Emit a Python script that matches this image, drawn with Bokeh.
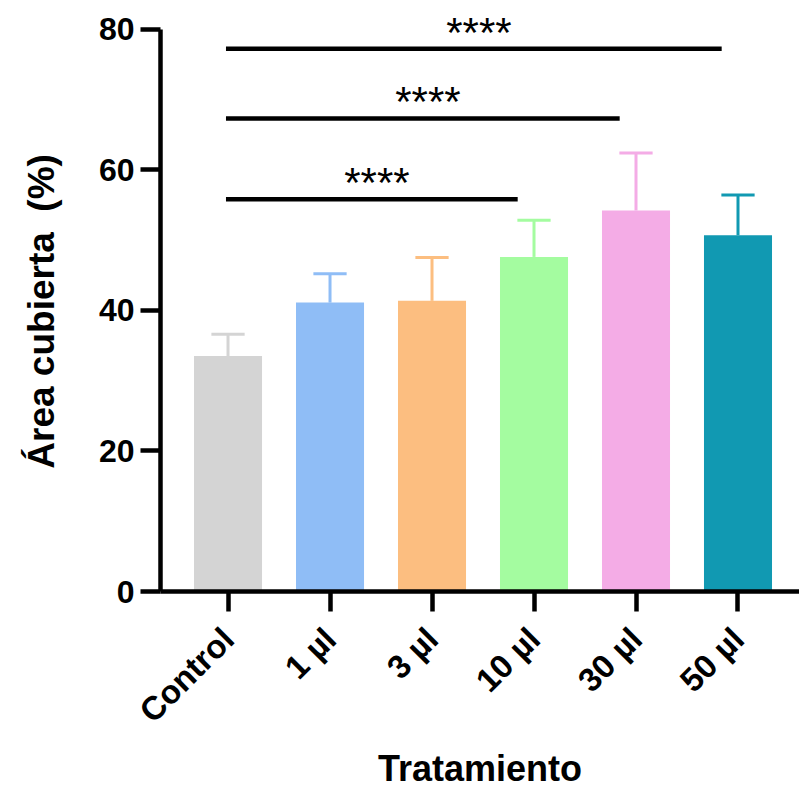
import math
from bokeh.plotting import figure
from bokeh.models import Range1d, FixedTicker, ColumnDataSource, LabelSet
from bokeh.core.properties import value
from bokeh.embed import file_html
from bokeh.resources import INLINE

# ---- data ----
groups = ["Control", "1 µl", "3 µl", "10 µl", "30 µl", "50 µl"]
means = [33.5, 41.1, 41.35, 47.6, 54.2, 50.7]
sds = [3.1, 4.1, 6.15, 5.2, 8.2, 5.7]
colors = ["#D4D4D4", "#8FBDF6", "#FCBE80", "#A4FCA0", "#F4ACE6", "#1199B2"]
y_ticks = [0, 20, 40, 60, 80]
sig_from = ["Control", "Control", "Control"]
sig_to = ["10 µl", "30 µl", "50 µl"]
sig_height = [55.8, 67.3, 77.2]
sig_label = ["****", "****", "****"]

FONT = "Liberation Sans"

xs = list(range(len(groups)))
idx = {g: i for i, g in enumerate(groups)}

p = figure(width=799, height=791, output_backend="svg", toolbar_location=None,
           x_range=Range1d(-0.662, 5.603), y_range=Range1d(0, 84.08),
           min_border_left=160, min_border_right=0, min_border_top=0,
           min_border_bottom=199)
p.outline_line_color = None
p.xgrid.visible = False
p.ygrid.visible = False
p.background_fill_color = "white"
p.border_fill_color = "white"

src = ColumnDataSource(dict(x=xs, top=means, color=colors,
                            up=[m + s for m, s in zip(means, sds)],
                            cl=[x - 0.163 for x in xs], cr=[x + 0.163 for x in xs]))
p.vbar(x="x", top="top", bottom=0, width=0.667, fill_color="color",
       line_color=None, source=src)
p.segment(x0="x", y0="top", x1="x", y1="up", line_color="color", line_width=3, source=src)
p.segment(x0="cl", y0="up", x1="cr", y1="up", line_color="color", line_width=3, source=src)

# significance bars
sx0 = [idx[a] - 0.02 for a in sig_from]
sx1 = [idx[b] - 0.16 for b in sig_to]
p.segment(x0=sx0, y0=sig_height, x1=sx1, y1=sig_height, line_color="black",
          line_width=4.5)
sig_src = ColumnDataSource(dict(x=[(a + b) / 2 + 0.05 for a, b in zip(sx0, sx1)],
                                y=sig_height, text=sig_label))
p.add_layout(LabelSet(x="x", y="y", text="text", source=sig_src,
                      text_font=value(FONT), text_font_size="42px",
                      text_color="black", text_align="center",
                      text_baseline="bottom", y_offset=-7))

# axes
for ax in (p.xaxis[0], p.yaxis[0]):
    ax.axis_line_width = 4.5
    ax.axis_line_color = "black"
    ax.major_tick_line_width = 4.5
    ax.major_tick_line_color = "black"
    ax.major_tick_out = 20
    ax.major_tick_in = 0
    ax.minor_tick_line_color = None
    ax.major_label_text_font = FONT
    ax.major_label_text_font_style = "bold"
    ax.major_label_text_font_size = "32px"
    ax.major_label_text_color = "black"
    ax.axis_label_text_font = FONT
    ax.axis_label_text_font_style = "bold"
    ax.axis_label_text_color = "black"

p.yaxis.ticker = FixedTicker(ticks=y_ticks)
p.yaxis.bounds = (0, 80)
p.yaxis.major_label_standoff = 6
p.yaxis.axis_label = "Área cubierta\u00a0 (%)\u00a0\u00a0\u00a0"
p.yaxis.axis_label_text_font_size = "37px"
p.yaxis.axis_label_standoff = 34

p.xaxis.ticker = FixedTicker(ticks=xs)
p.xaxis.major_label_overrides = {i: g for i, g in enumerate(groups)}
p.xaxis.major_label_orientation = math.pi / 4
p.xaxis.major_label_text_font_size = "33px"
p.xaxis.major_label_standoff = 22
p.xaxis.axis_label = "Tratamiento"
p.xaxis.axis_label_text_font_size = "36px"
p.xaxis.axis_label_standoff = 2

open("out.html", "w").write(file_html(p, INLINE))
